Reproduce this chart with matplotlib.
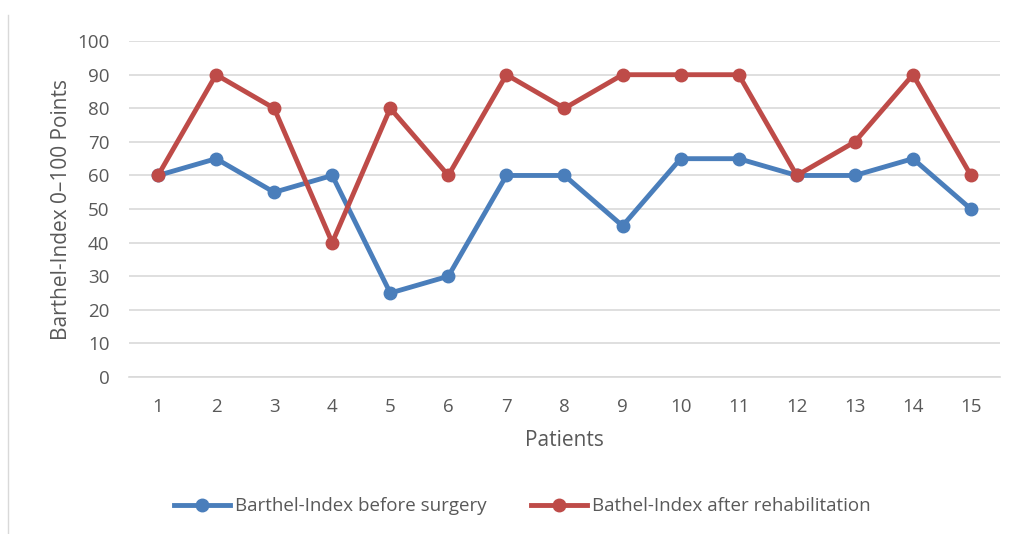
import matplotlib.pyplot as plt
from matplotlib.lines import Line2D

patients = list(range(1, 16))
before = [60, 65, 55, 60, 25, 30, 60, 60, 45, 65, 65, 60, 60, 65, 50]
after = [60, 90, 80, 40, 80, 60, 90, 80, 90, 90, 90, 60, 70, 90, 60]
yticks = list(range(0, 101, 10))

plt.rcParams['font.family'] = ['Open Sans', 'DejaVu Sans']
grey = '#595959'

fig = plt.figure(figsize=(10.14, 5.34), dpi=100)
ax = fig.add_axes([0.1272, 0.294, 0.8590, 0.629])

ax.plot(patients, before, color='#4A7EBB', lw=3.5, marker='o', ms=9,
        label='Barthel-Index before surgery', zorder=3)
ax.plot(patients, after, color='#BE4B48', lw=3.5, marker='o', ms=9,
        label='Bathel-Index after rehabilitation', zorder=4)

ax.set_xlim(0.5, 15.5)
ax.set_ylim(0, 100)
ax.set_xticks(patients)
ax.set_yticks(yticks)
ax.grid(axis='y', color='#D9D9D9', lw=1.2)
ax.set_axisbelow(True)
for s in ['top', 'right', 'left']:
    ax.spines[s].set_visible(False)
ax.spines['bottom'].set_color('#D9D9D9')
ax.spines['bottom'].set_linewidth(1.2)
ax.tick_params(length=0, labelsize=13.5, colors=grey)
ax.tick_params(axis='x', pad=15)
ax.tick_params(axis='y', pad=14)
ax.set_xlabel('Patients', fontsize=15, color=grey, labelpad=10)
ax.set_ylabel('Barthel-Index 0\u2013100 Points', fontsize=15, color=grey, labelpad=4)

fig.legend(loc='center', bbox_to_anchor=(0.515, 0.052), ncol=2, frameon=False,
           fontsize=13.5, labelcolor=grey, handlelength=3.0, columnspacing=2.4,
           handletextpad=0.25)

fig.add_artist(Line2D([0.008, 0.008], [0, 0.972], color='#D9D9D9', lw=1,
                      transform=fig.transFigure))

fig.savefig('out.png', dpi=100)
